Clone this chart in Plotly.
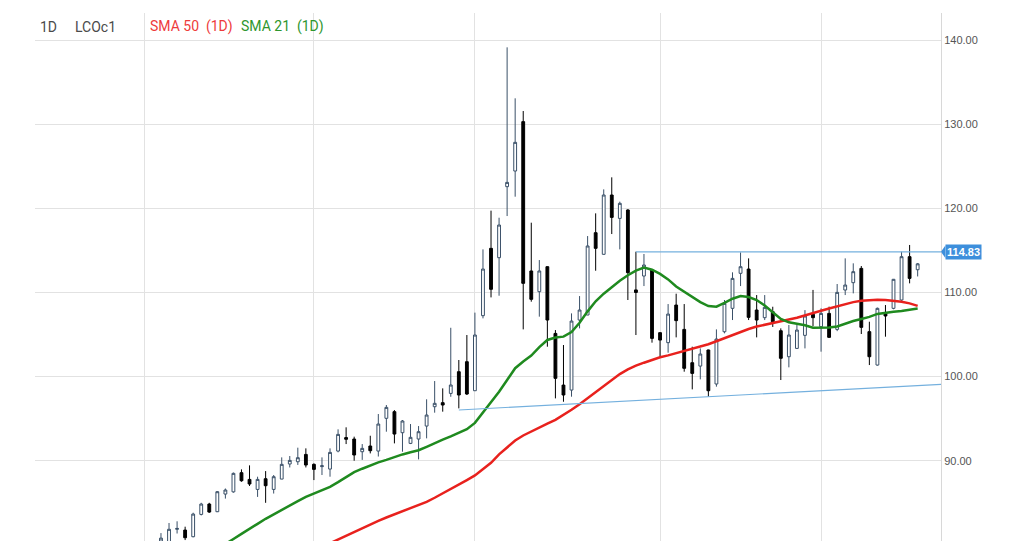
import plotly.graph_objects as go

# ---- data (candle index = trading day) ----
idx = list(range(1, 96))
opens = [80.45, 80.2, 81.85, 81.76, 80.97, 83.62, 84.85, 83.94, 86.04, 86.3,
         88.58, 87.78, 86.59, 87.86, 86.59, 87.82, 89.61, 89.88, 90.75, 89.57,
         89.3, 89.01, 91.15, 92.75, 92.58, 91.07, 91.75, 91.15, 95.04, 95.83,
         93.33, 92.06, 92.58, 94.12, 96.42, 96.9, 98.0, 100.58, 101.77, 98.32,
         107.24, 115.24, 114.13, 122.57, 124.43, 130.3, 112.55, 110.09, 113.06, 105.13,
         98.99, 98.4, 106.72, 107.32, 117.1, 114.53, 121.58, 118.8, 119.8, 110.3,
         111.95, 112.67, 105.22, 104.03, 108.5, 105.61, 101.65, 101.25, 103.16, 99.12,
         105.33, 108.11, 112.27, 112.78, 107.91, 107.0, 107.71, 105.45, 102.36, 103.35,
         104.9, 107.4, 105.93, 107.51, 105.61, 110.29, 111.16, 112.86, 105.34, 101.37,
         107.5, 108.11, 109.1, 114.25, 112.7]
highs = [81.4, 82.6, 82.8, 82.16, 83.82, 85.0, 85.0, 86.4, 86.7, 88.6,
         88.97, 89.45, 88.1, 88.77, 88.3, 90.4, 90.56, 91.55, 91.47, 89.69,
         90.4, 91.47, 93.73, 93.97, 92.86, 91.98, 92.97, 95.55, 96.62, 96.02,
         94.84, 94.36, 94.12, 97.3, 99.47, 98.6, 105.8, 101.97, 104.94, 107.6,
         115.12, 119.72, 118.88, 139.13, 133.07, 131.56, 118.29, 113.85, 113.1, 105.53,
         103.75, 107.51, 109.57, 116.7, 119.4, 122.25, 123.68, 120.79, 119.9, 114.84,
         114.57, 112.7, 105.25, 108.62, 109.85, 108.62, 103.55, 103.35, 103.2, 105.61,
         109.1, 112.39, 114.76, 114.05, 109.69, 109.69, 108.3, 105.73, 106.13, 106.13,
         107.9, 110.3, 108.11, 108.31, 111.0, 114.05, 113.46, 113.14, 106.52, 108.2,
         108.5, 111.6, 114.84, 115.64, 113.5]
lows = [79.9, 79.8, 81.35, 80.57, 80.9, 83.5, 83.8, 83.9, 85.5, 86.2,
        87.5, 87.0, 85.7, 85.0, 86.1, 87.8, 89.2, 89.5, 89.2, 87.7,
        88.3, 88.1, 91.0, 91.98, 90.0, 90.1, 90.87, 90.5, 93.45, 92.06,
        91.07, 91.98, 90.16, 92.66, 95.71, 95.83, 97.6, 96.22, 97.81, 98.3,
        106.92, 109.41, 109.61, 119.08, 121.38, 105.61, 108.9, 107.12, 103.55, 97.41,
        97.01, 97.61, 105.73, 107.3, 112.58, 114.5, 116.94, 115.12, 109.1, 104.94,
        110.76, 104.03, 102.36, 102.84, 104.66, 100.58, 98.48, 99.67, 97.61, 98.8,
        105.14, 106.72, 110.76, 106.72, 104.66, 106.72, 105.9, 99.59, 101.1, 103.3,
        103.35, 106.0, 102.96, 104.6, 105.4, 109.69, 109.89, 105.06, 101.37, 101.3,
        104.74, 108.0, 109.0, 111.08, 111.9]
closes = [80.8, 81.85, 81.95, 80.85, 83.66, 84.85, 83.9, 86.32, 86.52, 88.5,
          87.62, 87.23, 87.78, 87.03, 88.1, 89.57, 90.04, 90.36, 89.49, 88.97,
          89.4, 90.99, 93.13, 92.55, 90.68, 91.47, 91.19, 94.36, 96.34, 93.17,
          94.72, 92.78, 93.45, 95.43, 96.82, 96.62, 99.0, 97.81, 97.93, 104.94,
          112.78, 110.37, 118.01, 123.08, 127.84, 111.08, 109.18, 112.55, 106.72, 99.79,
          97.81, 106.6, 107.91, 115.52, 115.24, 121.58, 118.92, 120.59, 112.35, 110.0,
          113.26, 104.54, 104.34, 107.43, 106.65, 100.98, 100.38, 102.68, 98.32, 104.46,
          108.7, 111.67, 113.06, 107.04, 106.72, 108.23, 106.52, 102.17, 104.94, 105.53,
          107.2, 107.0, 107.51, 104.66, 110.01, 110.88, 112.47, 105.85, 102.36, 108.11,
          107.2, 111.56, 114.25, 111.67, 113.4]

sma21_idx = list(range(8, 96))
sma21 = [79.5, 80.05, 80.7, 81.3, 81.95, 82.5, 83.1, 83.65, 84.2, 84.7,
         85.2, 85.7, 86.1, 86.5, 86.9, 87.45, 88.05, 88.65, 89.05, 89.45,
         89.8, 90.1, 90.45, 90.75, 91.0, 91.25, 91.65, 92.1, 92.5, 92.9,
         93.3, 93.75, 94.5, 95.7, 96.9, 98.2, 99.6, 101.0, 101.8, 102.5,
         103.5, 104.35, 104.65, 104.75, 105.3, 106.4, 107.75, 108.95, 109.85, 110.65,
         111.4, 112.05, 112.6, 112.95, 112.7, 112.2, 111.55, 110.7, 110.05, 109.45,
         108.85, 108.38, 108.3, 108.75, 109.25, 109.57, 109.45, 109.1, 108.45, 107.65,
         106.85, 106.45, 106.25, 106.1, 105.8, 105.8, 105.82, 105.95, 106.3, 106.6,
         106.85, 107.1, 107.45, 107.6, 107.7, 107.8, 107.95, 108.1]

sma50_idx = list(range(21, 96))
sma50 = [79.75, 80.2, 80.65, 81.1, 81.6, 82.02, 82.45, 82.85, 83.25, 83.62,
         84.0, 84.38, 84.72, 85.12, 85.6, 86.1, 86.65, 87.2, 87.7, 88.25,
         88.95, 89.75, 90.75, 91.6, 92.4, 93.0, 93.5, 93.95, 94.4, 94.85,
         95.4, 96.05, 96.7, 97.4, 98.1, 98.9, 99.6, 100.3, 100.85, 101.3,
         101.65, 101.98, 102.3, 102.52, 102.78, 103.08, 103.32, 103.55, 103.85, 104.2,
         104.58, 104.95, 105.3, 105.65, 105.95, 106.18, 106.4, 106.58, 106.78, 107.0,
         107.25, 107.55, 107.82, 108.1, 108.35, 108.62, 108.85, 109.0, 109.1, 109.12,
         109.1, 109.02, 108.9, 108.7, 108.4]

month_start_idx = [-1, 20, 40, 63, 83]
support_idx = [38, 69]
support_val = [96.03, 97.61]
resist_idx = 60
resist_val = 114.83
y_ticks = [80, 90, 100, 110, 120, 130, 140]

X_MIN, X_MAX = -14.65, 97.9
Y_MIN, Y_MAX = 80.46, 143.21

fig = go.Figure()

fig.add_trace(go.Candlestick(
    x=idx, open=opens, high=highs, low=lows, close=closes,
    increasing=dict(line=dict(color="#3a5068", width=1), fillcolor="#ffffff"),
    decreasing=dict(line=dict(color="#000000", width=1), fillcolor="#000000"),
    whiskerwidth=0, showlegend=False, hoverinfo="skip"))

fig.add_trace(go.Scatter(x=sma50_idx, y=sma50, mode="lines",
                         line=dict(color="#e8211d", width=2.5), showlegend=False,
                         hoverinfo="skip"))
fig.add_trace(go.Scatter(x=sma21_idx, y=sma21, mode="lines",
                         line=dict(color="#1f8a1f", width=2.5), showlegend=False,
                         hoverinfo="skip"))

# support trend line (through two lows, extended to the right edge)
slope = (support_val[1] - support_val[0]) / (support_idx[1] - support_idx[0])
fig.add_trace(go.Scatter(x=[support_idx[0], X_MAX],
                         y=[support_val[0], support_val[0] + slope * (X_MAX - support_idx[0])],
                         mode="lines", line=dict(color="#74b0de", width=1.2),
                         showlegend=False, hoverinfo="skip", cliponaxis=False))
# resistance horizontal line
fig.add_trace(go.Scatter(x=[resist_idx, X_MAX], y=[resist_val, resist_val],
                         mode="lines", line=dict(color="#74b0de", width=1.2),
                         showlegend=False, hoverinfo="skip", cliponaxis=False))

fig.add_annotation(x=1, xref="paper", y=resist_val, yref="y", xanchor="left",
                   xshift=4, text="<b>114.83</b>", showarrow=False,
                   font=dict(family="Arial", size=11, color="#ffffff"),
                   bgcolor="#3d8fdc", borderpad=1)
fig.add_shape(type="path", xref="paper", yref="y",
              path=f"M 1.0,{resist_val} L 1.0048,{resist_val + 0.75} L 1.0048,{resist_val - 0.75} Z",
              fillcolor="#3d8fdc", line=dict(width=0))

# clipped "80.00" tick label at the bottom edge
fig.add_annotation(x=1, xref="paper", y=80, yref="y", xanchor="left", xshift=3,
                   text="80.00", showarrow=False,
                   font=dict(family="Arial", size=11, color="#555555"))

# header
hdr_y = 1 - (27 - 13) / 528
plot_w = 941 - 35
for px, txt, col in [(38, "1D", "#4a4a4a"), (73, "LCOc1", "#4a4a4a"),
                     (148, "SMA 50&nbsp;&nbsp;(1D)", "#ee3b3b"),
                     (239, "SMA 21&nbsp;&nbsp;(1D)", "#2e962e")]:
    fig.add_annotation(x=(px - 35) / plot_w, xref="paper", y=hdr_y, yref="paper",
                       xanchor="left", yanchor="middle", text=txt, showarrow=False,
                       font=dict(family="Roboto", size=14, color=col))

fig.update_layout(
    width=1027, height=541,
    margin=dict(l=35, r=86, t=13, b=0),
    paper_bgcolor="#ffffff", plot_bgcolor="#ffffff",
    boxgap=0.5,
    showlegend=False,
    xaxis=dict(range=[X_MIN, X_MAX], tickvals=month_start_idx, showticklabels=False,
               showgrid=True, gridcolor="#e2e2e2", gridwidth=1, zeroline=False,
               showline=False, ticks="", rangeslider=dict(visible=False), fixedrange=True),
    yaxis=dict(range=[Y_MIN, Y_MAX], side="right", tickvals=y_ticks,
               tickformat=".2f", showgrid=True, gridcolor="#e2e2e2", zeroline=False,
               showline=True, linecolor="#d8d8d8", linewidth=1, ticks="",
               tickfont=dict(family="Arial", size=11, color="#555555"), fixedrange=True),
)

fig.write_html("out.html")
